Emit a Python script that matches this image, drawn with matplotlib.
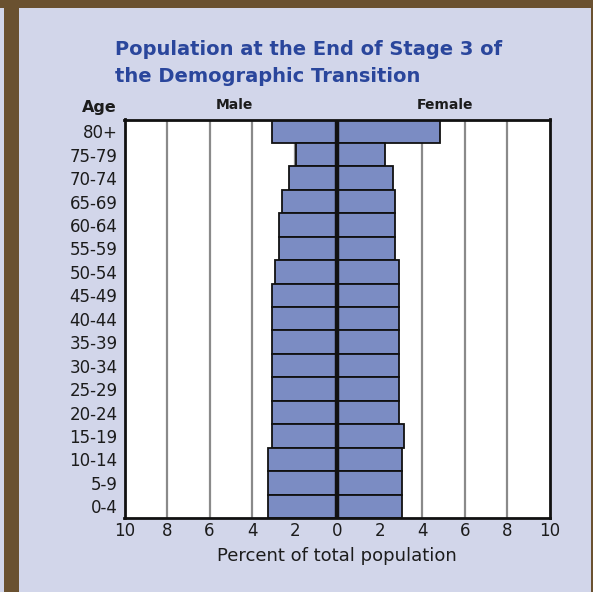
import matplotlib
matplotlib.use("Agg")
import matplotlib.pyplot as plt
from matplotlib.patches import Rectangle

# age groups, oldest first (as read top to bottom)
age_groups = ["80+", "75-79", "70-74", "65-69", "60-64", "55-59", "50-54", "45-49",
              "40-44", "35-39", "30-34", "25-29", "20-24", "15-19", "10-14", "5-9", "0-4"]
male_pct = [3.07, 1.93, 2.26, 2.60, 2.76, 2.76, 2.92, 3.07,
            3.05, 3.05, 3.05, 3.05, 3.05, 3.05, 3.26, 3.26, 3.26]
female_pct = [4.82, 2.26, 2.62, 2.73, 2.73, 2.73, 2.92, 2.92,
              2.90, 2.90, 2.90, 2.90, 2.90, 3.12, 3.04, 3.04, 3.04]
x_ticks = [-10, -8, -6, -4, -2, 0, 2, 4, 6, 8, 10]

BG = "#d2d6ea"
BAR = "#7b8cc3"
TITLE = "#2a469c"
BROWN = "#6a5130"
INK = "#1c1c1c"

fig = plt.figure(figsize=(5.93, 5.92), dpi=100, facecolor=BG)

# brown frame pieces
fig.patches.append(Rectangle((0, 1 - 8 / 592), 1, 8 / 592, transform=fig.transFigure,
                             facecolor=BROWN, edgecolor="none", zorder=0))
fig.patches.append(Rectangle((4 / 593, 0), 15 / 593, 1, transform=fig.transFigure,
                             facecolor=BROWN, edgecolor="none", zorder=0))
fig.patches.append(Rectangle((591 / 593, 0), 2 / 593, 1, transform=fig.transFigure,
                             facecolor=BROWN, edgecolor="none", zorder=0))

ax = fig.add_axes([124.5 / 593, 1 - 518 / 592, 425.5 / 593, 398.5 / 592])
ax.set_facecolor("white")

n = len(age_groups)
ypos = [n - 1 - i for i in range(n)]
ax.barh(ypos, [-v for v in male_pct], height=1.0, color=BAR, edgecolor="#111111",
        linewidth=1.3, zorder=3)
ax.barh(ypos, female_pct, height=1.0, color=BAR, edgecolor="#111111",
        linewidth=1.3, zorder=3)

for t in x_ticks:
    if abs(t) not in (0, 10):
        ax.axvline(t, color="#8a8a8a", lw=1.6, zorder=1)
ax.axvline(0, color="#111111", lw=3.2, zorder=4)

ax.set_xlim(-10, 10)
ax.set_ylim(-0.5, n - 0.5)
ax.set_xticks(x_ticks)
ax.set_xticklabels([str(abs(t)) for t in x_ticks], fontsize=12, color=INK)
ax.set_yticks(ypos)
ax.set_yticklabels(age_groups, fontsize=12, color=INK)
ax.tick_params(axis="y", length=0, pad=5)
ax.tick_params(axis="x", length=0, pad=3)
for s in ax.spines.values():
    s.set_linewidth(2)
    s.set_color("#111111")
    s.set_zorder(5)

ax.set_xlabel("Percent of total population", fontsize=13, color=INK, labelpad=5)

ax.text(-4.85, n - 0.5 + 0.3, "Male", ha="center", va="bottom",
        fontsize=10, fontweight="bold", color=INK)
ax.text(5.05, n - 0.5 + 0.3, "Female", ha="center", va="bottom",
        fontsize=10, fontweight="bold", color=INK)
fig.text(117 / 593, 1 - 112 / 592, "Age", ha="right", va="baseline",
         fontsize=11.5, fontweight="bold", color=INK)

fig.text(115 / 593, 1 - 40 / 592, "Population at the End of Stage 3 of\nthe Demographic Transition",
         ha="left", va="top", fontsize=14, fontweight="bold", color=TITLE,
         linespacing=1.5)

fig.savefig("out.png", dpi=100, facecolor=BG)
